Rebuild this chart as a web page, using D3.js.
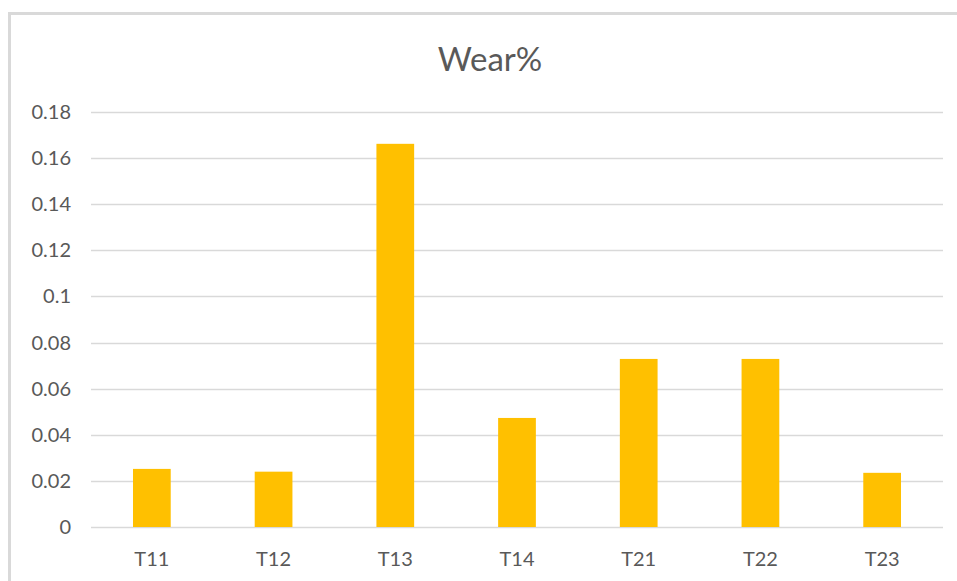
<!DOCTYPE html>
<html>
<head>
<meta charset="utf-8">
<script src="https://cdn.jsdelivr.net/npm/d3@7"></script>
<style>
  body { margin: 0; background: #fff; }
  svg text { font-family: Lato, "Open Sans", sans-serif; fill: #595959; }
</style>
</head>
<body>
<svg id="chart" width="957" height="581"></svg>
<script>
// data
var categories = ["T11", "T12", "T13", "T14", "T21", "T22", "T23"];
var wear = [0.0252, 0.0240, 0.1662, 0.0473, 0.0729, 0.0729, 0.0235];
var yTicks = [0, 0.02, 0.04, 0.06, 0.08, 0.1, 0.12, 0.14, 0.16, 0.18];

var svg = d3.select("#chart");

// chart frame
svg.append("rect")
  .attr("x", 9.5).attr("y", 13.5)
  .attr("width", 960).attr("height", 600)
  .attr("fill", "none")
  .attr("stroke", "#d9d9d9")
  .attr("stroke-width", 3);

// plot area (don't call these top/left, window.top is read-only)
var plotL = 91, plotR = 943, plotT = 112, plotB = 527;

var x = d3.scaleBand()
  .domain(categories)
  .range([plotL, plotR])
  .paddingInner(0.69)
  .paddingOuter(0.345);

var y = d3.scaleLinear()
  .domain([0, 0.18])
  .range([plotB, plotT]);

// gridlines
svg.append("g").selectAll("line")
  .data(yTicks)
  .join("line")
  .attr("x1", plotL).attr("x2", plotR)
  .attr("y1", function (d) { return Math.round(y(d)) + 0.5; })
  .attr("y2", function (d) { return Math.round(y(d)) + 0.5; })
  .attr("stroke", "#d9d9d9")
  .attr("stroke-width", 1.3);

// y tick labels
svg.append("g").selectAll("text")
  .data(yTicks)
  .join("text")
  .attr("x", 71)
  .attr("y", function (d) { return y(d); })
  .attr("dy", "0.35em")
  .attr("text-anchor", "end")
  .style("font-size", "20px")
  .text(function (d) { return d3.format("~g")(d); });

// bars
svg.append("g").selectAll("rect")
  .data(wear)
  .join("rect")
  .attr("x", function (d, i) { return x(categories[i]); })
  .attr("y", function (d) { return y(d); })
  .attr("width", x.bandwidth())
  .attr("height", function (d) { return y(0) - y(d); })
  .attr("fill", "#ffc000");

// x labels
svg.append("g").selectAll("text")
  .data(categories)
  .join("text")
  .attr("x", function (d) { return x(d) + x.bandwidth() / 2; })
  .attr("y", 566)
  .attr("text-anchor", "middle")
  .style("font-size", "20px")
  .text(function (d) { return d; });

// title
svg.append("text")
  .attr("x", 490)
  .attr("y", 71)
  .attr("text-anchor", "middle")
  .style("font-size", "33px")
  .text("Wear%");
</script>
</body>
</html>
